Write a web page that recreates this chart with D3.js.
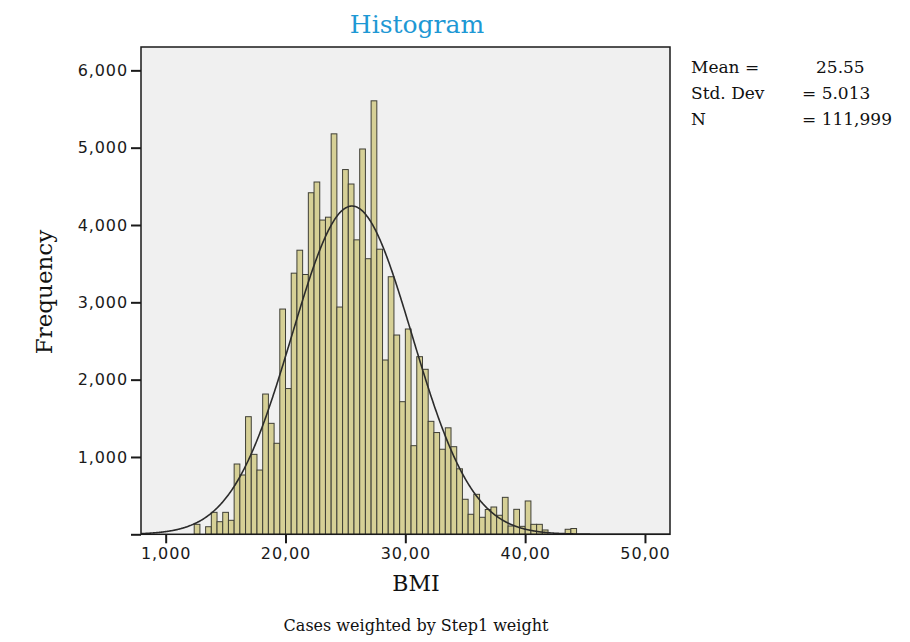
<!DOCTYPE html>
<html>
<head>
<meta charset="utf-8">
<script src="https://cdn.jsdelivr.net/npm/d3@7/dist/d3.min.js"></script>
<style>
  body { margin: 0; background: #ffffff; }
  svg { display: block; }
</style>
</head>
<body>
<svg id="chart" width="910" height="642"></svg>
<script>
// BMI histogram: lower edge of the first bin and the common bin width (BMI units)
const binStart = 12.38;
const binWidth = 0.4763;

// Weighted frequency of each bin, from left to right
const counts = [
  129, 0, 98, 284, 163, 284, 181, 909, 767, 1521,
  1034, 831, 1814, 1435, 1177, 2913, 1885, 3377, 3674, 3360,
  4417, 4556, 4064, 4101, 5179, 2939, 4717, 4530, 3808, 4983,
  3564, 5606, 3687, 2254, 3331, 2577, 1715, 2655, 1146, 2297,
  2134, 1461, 1316, 1100, 1377, 1133, 847, 453, 259, 517,
  220, 321, 353, 246, 478, 107, 323, 103, 431, 129,
  129, 56, 0, 0, 0, 65, 75
];

// Summary statistics shown beside the plot; they also define the normal curve
const mean = 25.55;
const stdDev = 5.013;
const totalN = 111999;
const statLabels = ["Mean =", "Std. Dev", "N"];
const statValues = ["25.55", "= 5.013", "= 111,999"];

// Axis ticks and their printed labels
const xTicks = [10, 20, 30, 40, 50];
const xTickLabels = ["1,000", "20,00", "30,00", "40,00", "50,00"];
const yTicks = [0, 1000, 2000, 3000, 4000, 5000, 6000];
const yTickLabels = ["", "1,000", "2,000", "3,000", "4,000", "5,000", "6,000"];

const serif = "'DejaVu Serif', 'Liberation Serif', serif";
const sans = "'DejaVu Sans', 'Liberation Sans', sans-serif";

const svg = d3.select("#chart");

const plot = { left: 141, right: 670, top: 47, bottom: 534.3 };

const x = d3.scaleLinear().domain([7.94, 52.09]).range([plot.left, plot.right]);
const y = d3.scaleLinear().domain([0, 6302]).range([plot.bottom, plot.top]);

// Plot background
svg.append("rect")
  .attr("x", plot.left).attr("y", plot.top)
  .attr("width", plot.right - plot.left)
  .attr("height", plot.bottom - plot.top)
  .attr("fill", "#f0f0f0");

// Bins
const bins = counts.map((c, i) => ({
  x0: binStart + i * binWidth,
  x1: binStart + (i + 1) * binWidth,
  count: c
}));

svg.append("g")
  .selectAll("rect")
  .data(bins.filter(b => b.count > 0))
  .join("rect")
  .attr("x", d => x(d.x0))
  .attr("y", d => y(d.count))
  .attr("width", d => x(d.x1) - x(d.x0))
  .attr("height", d => y(0) - y(d.count))
  .attr("fill", "#d6d096")
  .attr("stroke", "#3f3f36")
  .attr("stroke-width", 1);

// Fitted normal curve scaled to the bin width
const density = v => totalN * binWidth / (stdDev * Math.sqrt(2 * Math.PI)) *
  Math.exp(-0.5 * Math.pow((v - mean) / stdDev, 2));
const curvePts = d3.range(x.domain()[0], x.domain()[1] + 0.001, 0.05).map(v => [v, density(v)]);

svg.append("path")
  .datum(curvePts)
  .attr("fill", "none")
  .attr("stroke", "#2b2b2b")
  .attr("stroke-width", 1.6)
  .attr("d", d3.line().x(d => x(d[0])).y(d => y(d[1])).curve(d3.curveBasis));

// Frame
svg.append("rect")
  .attr("x", plot.left).attr("y", plot.top)
  .attr("width", plot.right - plot.left)
  .attr("height", plot.bottom - plot.top)
  .attr("fill", "none")
  .attr("stroke", "#1a1a1a")
  .attr("stroke-width", 1.5);

// Y axis
const yAxis = svg.append("g")
  .attr("transform", `translate(${plot.left},0)`)
  .call(d3.axisLeft(y).tickValues(yTicks)
    .tickFormat((d, i) => yTickLabels[i])
    .tickSize(10).tickPadding(3));
yAxis.select(".domain").remove();
yAxis.selectAll(".tick line").attr("stroke", "#1a1a1a").attr("stroke-width", 2);
yAxis.selectAll(".tick text")
  .attr("font-family", sans).attr("font-size", 16)
  .attr("letter-spacing", "0.9px")
  .attr("fill", "#1a1a1a");

// X axis
const xAxis = svg.append("g")
  .attr("transform", `translate(0,${plot.bottom})`)
  .call(d3.axisBottom(x).tickValues(xTicks)
    .tickFormat((d, i) => xTickLabels[i])
    .tickSize(9).tickPadding(4));
xAxis.select(".domain").remove();
xAxis.selectAll(".tick line").attr("stroke", "#1a1a1a").attr("stroke-width", 2);
xAxis.selectAll(".tick text")
  .attr("font-family", sans).attr("font-size", 16)
  .attr("letter-spacing", "0.9px")
  .attr("fill", "#1a1a1a");

// Title
svg.append("text")
  .attr("x", 417).attr("y", 33)
  .attr("text-anchor", "middle")
  .attr("font-family", serif).attr("font-size", 25)
  .attr("fill", "#1e98d4")
  .text("Histogram");

// Axis titles
svg.append("text")
  .attr("transform", "translate(52,292) rotate(-90)")
  .attr("text-anchor", "middle")
  .attr("font-family", serif).attr("font-size", 23)
  .attr("fill", "#111")
  .text("Frequency");

svg.append("text")
  .attr("x", 416).attr("y", 591)
  .attr("text-anchor", "middle")
  .attr("font-family", serif).attr("font-size", 22)
  .attr("fill", "#111")
  .text("BMI");

svg.append("text")
  .attr("x", 416).attr("y", 631)
  .attr("text-anchor", "middle")
  .attr("font-family", serif).attr("font-size", 16)
  .attr("fill", "#111")
  .text("Cases weighted by Step1 weight");

// Statistics block
const statValueX = [816, 802, 802];
const stats = svg.append("g").attr("font-family", serif).attr("font-size", 17).attr("fill", "#111");
statLabels.forEach((lbl, i) => {
  stats.append("text").attr("x", 691).attr("y", 73 + i * 26).text(lbl);
  stats.append("text").attr("x", statValueX[i]).attr("y", 73 + i * 26).text(statValues[i]);
});
</script>
</body>
</html>
